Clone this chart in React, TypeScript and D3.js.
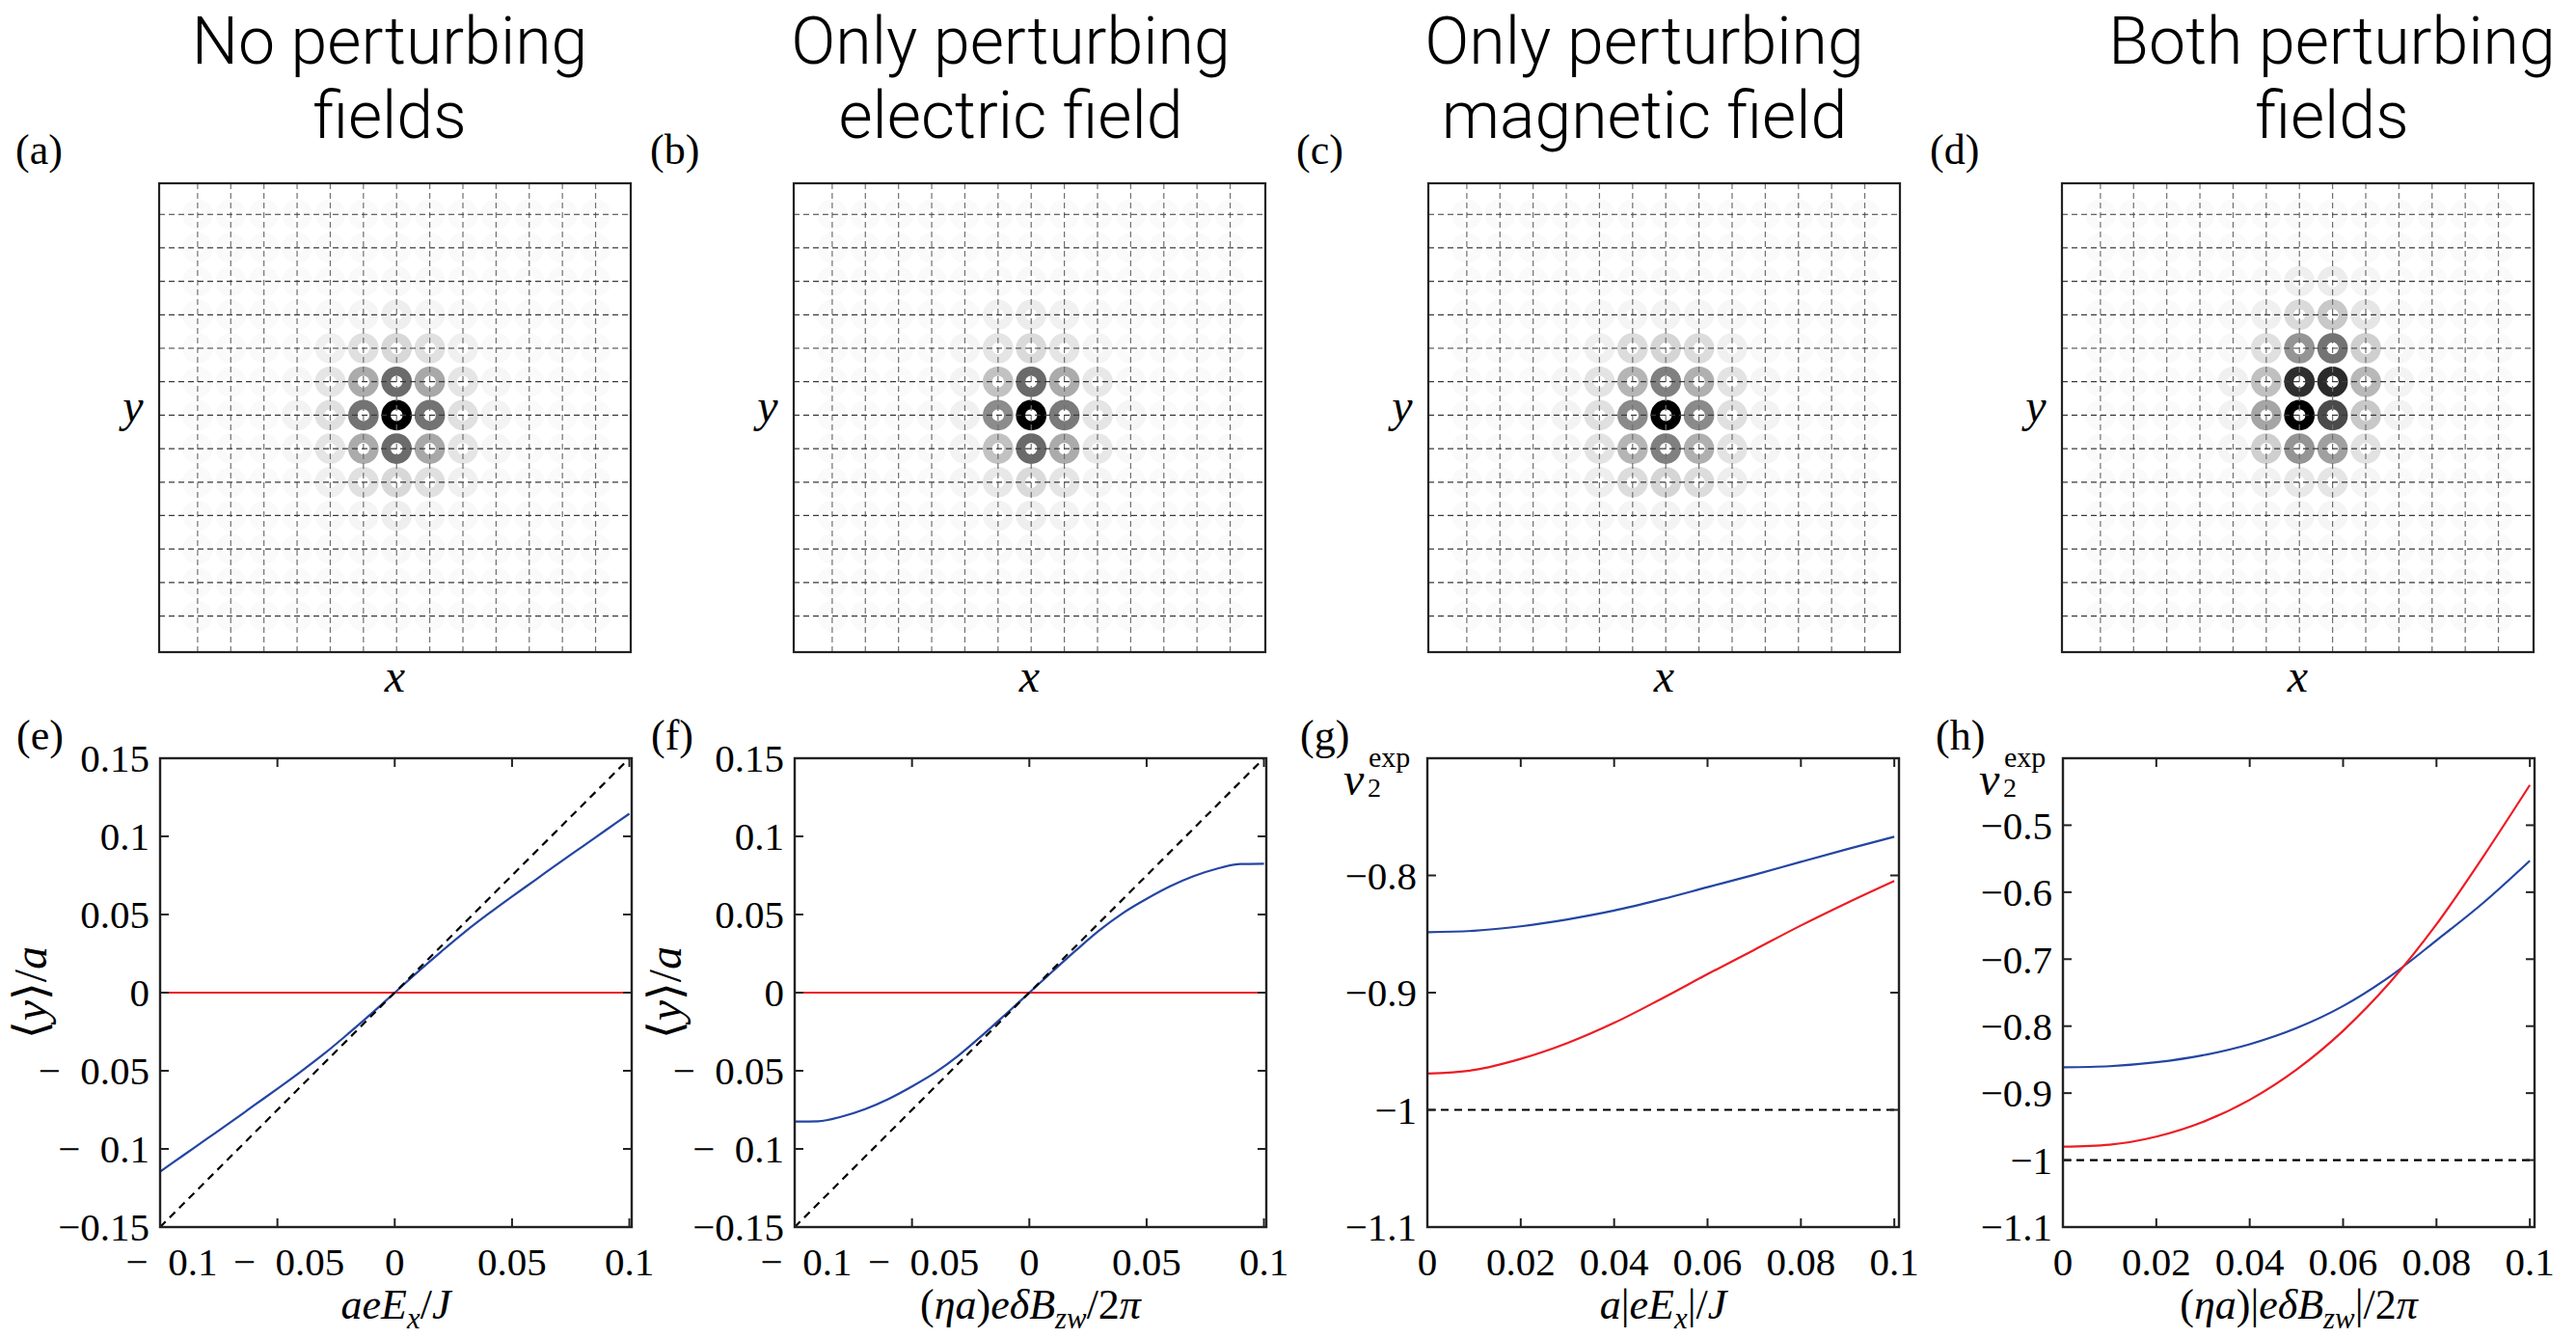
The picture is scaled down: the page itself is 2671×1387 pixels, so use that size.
import React from "react";
import * as d3 from "d3";

const W = 2671;
const H = 1387;

// ---------- text content ----------
const titleLine1 = ["No perturbing", "Only perturbing", "Only perturbing", "Both perturbing"];
const titleLine2 = ["fields", "electric field", "magnetic field", "fields"];
const titleCenterX = [404, 1048, 1705, 2418];
const topPanelLetters = ["(a)", "(b)", "(c)", "(d)"];
const bottomPanelLetters = ["(e)", "(f)", "(g)", "(h)"];

// ---------- lattice data (gray level 0=black .. 255=white) ----------
const latticeSites = [-6, -5, -4, -3, -2, -1, 0, 1, 2, 3, 4, 5, 6];
const farSiteGray = 250;
// rows: y = +4 .. -4 ; cols: x = -4 .. +4
const grayA = [
  [250, 250, 250, 249, 248, 249, 250, 250, 250],
  [250, 250, 248, 245, 238, 245, 248, 250, 250],
  [250, 249, 240, 224, 216, 224, 240, 249, 250],
  [250, 246, 229, 171, 107, 168, 229, 246, 250],
  [250, 243, 224, 115, 0, 115, 224, 243, 250],
  [250, 246, 229, 171, 107, 168, 229, 246, 250],
  [250, 249, 240, 224, 216, 224, 240, 249, 250],
  [250, 250, 248, 245, 238, 245, 248, 250, 250],
  [250, 250, 250, 249, 248, 249, 250, 250, 250],
];
const grayB = [
  [250, 250, 250, 249, 248, 249, 250, 250, 250],
  [250, 250, 249, 241, 236, 241, 248, 250, 250],
  [250, 250, 245, 229, 218, 229, 245, 250, 250],
  [250, 249, 243, 194, 106, 171, 232, 248, 250],
  [250, 248, 240, 140, 0, 122, 229, 245, 250],
  [250, 249, 243, 194, 106, 171, 232, 248, 250],
  [250, 250, 245, 232, 218, 229, 245, 250, 250],
  [250, 250, 249, 243, 238, 243, 248, 250, 250],
  [250, 250, 250, 249, 248, 249, 250, 250, 250],
];
const grayC = [
  [250, 250, 250, 249, 248, 249, 250, 250, 250],
  [250, 250, 247, 245, 243, 245, 247, 250, 250],
  [250, 249, 240, 220, 213, 220, 240, 249, 250],
  [250, 245, 227, 181, 128, 176, 227, 245, 250],
  [250, 243, 224, 138, 0, 138, 224, 243, 250],
  [250, 245, 227, 181, 128, 176, 227, 245, 250],
  [250, 249, 238, 220, 213, 220, 238, 249, 250],
  [250, 250, 247, 245, 243, 245, 247, 250, 250],
  [250, 250, 250, 249, 248, 249, 250, 250, 250],
];
const grayD = [
  [250, 250, 250, 248, 239, 236, 245, 250, 250],
  [250, 250, 248, 240, 218, 200, 229, 249, 250],
  [250, 250, 248, 224, 149, 115, 207, 247, 250],
  [250, 250, 240, 192, 46, 42, 184, 243, 250],
  [250, 250, 242, 165, 0, 74, 200, 243, 250],
  [250, 250, 245, 207, 149, 160, 226, 248, 250],
  [250, 250, 249, 242, 232, 229, 245, 250, 250],
  [250, 250, 250, 248, 245, 245, 249, 250, 250],
  [250, 250, 250, 250, 249, 249, 250, 250, 250],
];
const ringGrays = [grayA, grayB, grayC, grayD];

// ---------- curve data ----------
const xsSym = [-0.1, -0.09, -0.08, -0.07, -0.06, -0.05, -0.04, -0.03, -0.02, -0.01, 0,
  0.01, 0.02, 0.03, 0.04, 0.05, 0.06, 0.07, 0.08, 0.09, 0.1];
const eBlue = [-0.1145, -0.104, -0.0935, -0.083, -0.0722, -0.0615, -0.0505, -0.039, -0.0265, -0.0135, 0,
  0.0135, 0.0265, 0.039, 0.0505, 0.0615, 0.0722, 0.083, 0.0935, 0.104, 0.1145];
const eRed = [0, 0, 0, 0, 0, 0, 0, 0, 0, 0, 0, 0, 0, 0, 0, 0, 0, 0, 0, 0, 0];
const fBlue = [-0.0825, -0.0823, -0.0793, -0.0745, -0.068, -0.06, -0.051, -0.04, -0.0272, -0.0137, 0,
  0.0137, 0.0272, 0.04, 0.051, 0.06, 0.068, 0.0745, 0.0793, 0.0823, 0.0825];
const fRed = [0, 0, 0, 0, 0, 0, 0, 0, 0, 0, 0, 0, 0, 0, 0, 0, 0, 0, 0, 0, 0];
const diagX = [-0.1, 0.1];
const diagY = [-0.15, 0.15];

const xsPos = [0, 0.01, 0.02, 0.03, 0.04, 0.05, 0.06, 0.07, 0.08, 0.09, 0.1];
const gBlue = [-0.8484, -0.8472, -0.8434, -0.8375, -0.83, -0.8205, -0.81, -0.7995, -0.7884, -0.7775, -0.767];
const gRed = [-0.969, -0.966, -0.9565, -0.943, -0.9258, -0.9055, -0.8842, -0.8635, -0.8427, -0.8232, -0.8047];
const hBlue = [-0.8614, -0.8598, -0.854, -0.8435, -0.827, -0.803, -0.77, -0.726, -0.672, -0.616, -0.553];
const hRed = [-0.98, -0.977, -0.965, -0.943, -0.91, -0.865, -0.807, -0.735, -0.648, -0.547, -0.44];
const refLevel = -1;

// ---------- ticks ----------
const xTicksSym = [-0.1, -0.05, 0, 0.05, 0.1];
const xTickLabelsSym = ["\u2212\u20020.1", "\u2212\u20020.05", "0", "0.05", "0.1"];
const yTicksEF = [-0.15, -0.1, -0.05, 0, 0.05, 0.1, 0.15];
const yTickLabelsEF = ["\u22120.15", "\u2212\u20020.1", "\u2212\u20020.05", "0", "0.05", "0.1", "0.15"];
const xTicksPos = [0, 0.02, 0.04, 0.06, 0.08, 0.1];
const xTickLabelsPos = ["0", "0.02", "0.04", "0.06", "0.08", "0.1"];
const yTicksG = [-1.1, -1, -0.9, -0.8, -0.7];
const yTickLabelsG = ["\u22121.1", "\u22121", "\u22120.9", "\u22120.8", ""];
const yTicksH = [-1.1, -1, -0.9, -0.8, -0.7, -0.6, -0.5, -0.4];
const yTickLabelsH = ["\u22121.1", "\u22121", "\u22120.9", "\u22120.8", "\u22120.7", "\u22120.6", "\u22120.5", ""];

// ---------- styles ----------
const BLUE = "#2445a2";
const RED = "#ec1c24";
const SERIF = "'Liberation Serif', 'DejaVu Serif', serif";
const SANS = "Roboto, 'Open Sans', 'Noto Sans', sans-serif";

const TOP = { lefts: [165, 823, 1481, 2138], top: 190, w: 489, h: 486 };
const BOT = { lefts: [166, 824, 1480, 2139], top: 786, w: 489, h: 486 };

type Seg = { t: string; i?: boolean; sub?: boolean; sup?: boolean };

function MathText({ segs, size, ...rest }: any) {
  let shift = 0;
  const spans = segs.map((s: Seg, k: number) => {
    const target = s.sub ? size * 0.22 : s.sup ? -size * 0.45 : 0;
    const dy = target - shift;
    shift = target;
    return (
      <tspan key={k} dy={dy} fontStyle={s.i ? "italic" : "normal"} fontSize={s.sub || s.sup ? size * 0.7 : size}>
        {s.t}
      </tspan>
    );
  });
  return (
    <text fontFamily={SERIF} fontSize={size} fill="#000" {...rest}>
      {spans}
    </text>
  );
}

const xTitleE: Seg[] = [{ t: "aeE", i: true }, { t: "x", i: true, sub: true }, { t: "/" }, { t: "J", i: true }];
const xTitleF: Seg[] = [{ t: "(" }, { t: "\u03b7a", i: true }, { t: ")" }, { t: "e\u03b4B", i: true }, { t: "zw", i: true, sub: true }, { t: "/2" }, { t: "\u03c0", i: true }];
const xTitleG: Seg[] = [{ t: "a", i: true }, { t: "|" }, { t: "eE", i: true }, { t: "x", i: true, sub: true }, { t: "|/" }, { t: "J", i: true }];
const xTitleH: Seg[] = [{ t: "(" }, { t: "\u03b7a", i: true }, { t: ")|" }, { t: "e\u03b4B", i: true }, { t: "zw", i: true, sub: true }, { t: "|/2" }, { t: "\u03c0", i: true }];
const yTitleEF: Seg[] = [{ t: "\u27e8" }, { t: "y", i: true }, { t: "\u27e9/" }, { t: "a", i: true }];

function LatticePanel({ idx }: { idx: number }) {
  const left = TOP.lefts[idx];
  const grays = ringGrays[idx];
  const x = d3.scaleLinear().domain([-7.16, 7.06]).range([left, left + TOP.w]);
  const y = d3.scaleLinear().domain([-7.08, 6.93]).range([TOP.top + TOP.h, TOP.top]);
  const unit = x(1) - x(0);
  const grayAt = (i: number, j: number) =>
    Math.abs(i) <= 4 && Math.abs(j) <= 4 ? grays[4 - j][i + 4] : farSiteGray;
  const rings: any[] = [];
  latticeSites.forEach((j) =>
    latticeSites.forEach((i) => {
      const g = grayAt(i, j);
      rings.push(
        <circle key={`${i}_${j}`} cx={x(i)} cy={y(j)} r={unit * 0.32} fill="none"
          stroke={d3.rgb(g, g, g).formatHex()} strokeWidth={unit * 0.28} />
      );
    })
  );
  const cx = left + TOP.w / 2;
  return (
    <g>
      <text x={titleCenterX[idx]} y={66} textAnchor="middle" fontFamily={SANS} fontWeight={300} fontSize={68}>{titleLine1[idx]}</text>
      <text x={titleCenterX[idx]} y={143} textAnchor="middle" fontFamily={SANS} fontWeight={300} fontSize={68}>{titleLine2[idx]}</text>
      <text x={left - (idx < 2 ? 149 : 137)} y={170} fontFamily={SERIF} fontSize={44}>{topPanelLetters[idx]}</text>
      <rect x={left} y={TOP.top} width={TOP.w} height={TOP.h} fill="#fff" />
      {rings}
      {latticeSites.map((s) => (
        <line key={`v${s}`} x1={x(s)} x2={x(s)} y1={TOP.top} y2={TOP.top + TOP.h} stroke="#707070" strokeWidth={1.2} strokeDasharray="6,4" />
      ))}
      {latticeSites.map((s) => (
        <line key={`h${s}`} x1={left} x2={left + TOP.w} y1={y(s)} y2={y(s)} stroke="#3a3a3a" strokeWidth={1.2} strokeDasharray="6,4" />
      ))}
      <rect x={left} y={TOP.top} width={TOP.w} height={TOP.h} fill="none" stroke="#222" strokeWidth={2.2} />
      <text x={cx} y={717} textAnchor="middle" fontFamily={SERIF} fontStyle="italic" fontSize={48}>x</text>
      <text x={left - 27} y={437} textAnchor="middle" fontFamily={SERIF} fontStyle="italic" fontSize={48}>y</text>
    </g>
  );
}

const bottomPanels = [
  {
    xDomain: [-0.1, 0.101], yDomain: [-0.15, 0.15],
    xTicks: xTicksSym, xTickLabels: xTickLabelsSym, yTicks: yTicksEF, yTickLabels: yTickLabelsEF,
    lines: [
      { xs: xsSym, ys: eRed, color: RED, dash: false },
      { xs: xsSym, ys: eBlue, color: BLUE, dash: false },
      { xs: diagX, ys: diagY, color: "#000", dash: true },
    ],
    xTitle: xTitleE, nu: false,
  },
  {
    xDomain: [-0.1, 0.101], yDomain: [-0.15, 0.15],
    xTicks: xTicksSym, xTickLabels: xTickLabelsSym, yTicks: yTicksEF, yTickLabels: yTickLabelsEF,
    lines: [
      { xs: xsSym, ys: fRed, color: RED, dash: false },
      { xs: xsSym, ys: fBlue, color: BLUE, dash: false },
      { xs: diagX, ys: diagY, color: "#000", dash: true },
    ],
    xTitle: xTitleF, nu: false,
  },
  {
    xDomain: [0, 0.101], yDomain: [-1.1, -0.7],
    xTicks: xTicksPos, xTickLabels: xTickLabelsPos, yTicks: yTicksG, yTickLabels: yTickLabelsG,
    lines: [
      { xs: [0, 0.101], ys: [refLevel, refLevel], color: "#000", dash: true },
      { xs: xsPos, ys: gBlue, color: BLUE, dash: false },
      { xs: xsPos, ys: gRed, color: RED, dash: false },
    ],
    xTitle: xTitleG, nu: true,
  },
  {
    xDomain: [0, 0.101], yDomain: [-1.1, -0.4],
    xTicks: xTicksPos, xTickLabels: xTickLabelsPos, yTicks: yTicksH, yTickLabels: yTickLabelsH,
    lines: [
      { xs: [0, 0.101], ys: [refLevel, refLevel], color: "#000", dash: true },
      { xs: xsPos, ys: hBlue, color: BLUE, dash: false },
      { xs: xsPos, ys: hRed, color: RED, dash: false },
    ],
    xTitle: xTitleH, nu: true,
  },
];

function PlotPanel({ idx }: { idx: number }) {
  const cfg = bottomPanels[idx];
  const left = BOT.lefts[idx];
  const top = BOT.top;
  const bottom = BOT.top + BOT.h;
  const right = left + BOT.w;
  const x = d3.scaleLinear().domain(cfg.xDomain).range([left, right]);
  const y = d3.scaleLinear().domain(cfg.yDomain).range([bottom, top]);
  const tl = 9;
  const clipId = `clip${idx}`;
  return (
    <g>
      <defs>
        <clipPath id={clipId}>
          <rect x={left} y={top} width={BOT.w} height={BOT.h} />
        </clipPath>
      </defs>
      <text x={left - (idx < 2 ? 149 : 132)} y={777} fontFamily={SERIF} fontSize={44}>{bottomPanelLetters[idx]}</text>
      <g clipPath={`url(#${clipId})`}>
        {cfg.lines.map((ln, k) => {
          const pts = ln.xs.map((v, m) => [v, ln.ys[m]] as [number, number]);
          const path = d3.line().x((d) => x(d[0])).y((d) => y(d[1])).curve(d3.curveMonotoneX)(pts);
          return (
            <path key={k} d={path || ""} fill="none" stroke={ln.color} strokeWidth={2.2}
              strokeDasharray={ln.dash ? "8,6" : undefined} />
          );
        })}
      </g>
      {cfg.xTicks.map((t, k) => (
        <g key={`xt${k}`}>
          <line x1={x(t)} x2={x(t)} y1={bottom} y2={bottom - tl} stroke="#222" strokeWidth={2} />
          <line x1={x(t)} x2={x(t)} y1={top} y2={top + tl} stroke="#222" strokeWidth={2} />
          <text x={x(t)} dx={t < 0 ? 12 : 0} y={bottom + 50} textAnchor="middle" fontFamily={SERIF} fontSize={41}>{cfg.xTickLabels[k]}</text>
        </g>
      ))}
      {cfg.yTicks.map((t, k) => (
        <g key={`yt${k}`}>
          <line x1={left} x2={left + tl} y1={y(t)} y2={y(t)} stroke="#222" strokeWidth={2} />
          <line x1={right} x2={right - tl} y1={y(t)} y2={y(t)} stroke="#222" strokeWidth={2} />
          <text x={left - 11} y={y(t)} dy="0.35em" textAnchor="end" fontFamily={SERIF} fontSize={41}>{cfg.yTickLabels[k]}</text>
        </g>
      ))}
      <rect x={left} y={top} width={BOT.w} height={BOT.h} fill="none" stroke="#222" strokeWidth={2.4} />
      <MathText segs={cfg.xTitle} size={44} x={(left + right) / 2} y={1367} textAnchor="middle" />
      {cfg.nu ? (
        <g>
          <text x={left - 87} y={824} fontFamily={SERIF} fontStyle="italic" fontSize={48}>{"\u03bd"}</text>
          <text x={left - 62} y={826} fontFamily={SERIF} fontSize={28}>2</text>
          <text x={left - 61} y={795} fontFamily={SERIF} fontSize={30}>exp</text>
        </g>
      ) : (
        <MathText segs={yTitleEF} size={48} textAnchor="middle"
          transform={`translate(${left - 118},${(top + bottom) / 2}) rotate(-90)`} x={0} y={0} />
      )}
    </g>
  );
}

export default function App() {
  return (
    <svg width={W} height={H} viewBox={`0 0 ${W} ${H}`} style={{ position: "absolute", left: 0, top: 0, background: "#fff" }}>
      <rect x={0} y={0} width={W} height={H} fill="#fff" />
      {[0, 1, 2, 3].map((i) => (
        <LatticePanel key={`t${i}`} idx={i} />
      ))}
      {[0, 1, 2, 3].map((i) => (
        <PlotPanel key={`b${i}`} idx={i} />
      ))}
    </svg>
  );
}
